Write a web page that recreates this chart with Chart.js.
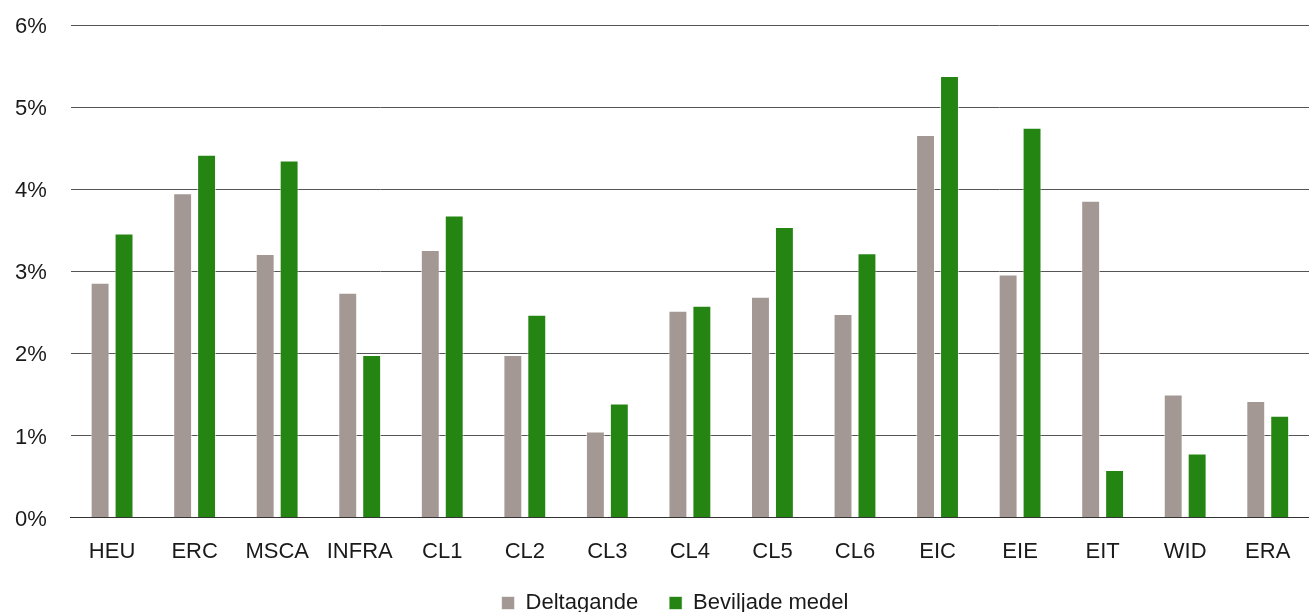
<!DOCTYPE html>
<html>
<head>
<meta charset="utf-8">
<script src="https://cdn.jsdelivr.net/npm/chart.js@4/dist/chart.umd.min.js"></script>
<style>
body{margin:0;background:#fff;}
#wrap{width:1309px;height:612px;overflow:hidden;}
</style>
</head>
<body>
<div id="wrap"><canvas id="chart" width="1309" height="612"></canvas></div>
<script>
let categories = ["HEU", "ERC", "MSCA", "INFRA", "CL1", "CL2", "CL3", "CL4", "CL5", "CL6", "EIC", "EIE", "EIT", "WID", "ERA"];
let deltagande = [2.86, 3.95, 3.21, 2.74, 3.26, 1.98, 1.05, 2.52, 2.69, 2.48, 4.66, 2.96, 3.86, 1.50, 1.42];
let beviljade = [3.46, 4.42, 4.35, 1.98, 3.68, 2.47, 1.39, 2.58, 3.54, 3.22, 5.38, 4.75, 0.58, 0.78, 1.24];
let seriesNames = ["Deltagande", "Beviljade medel"];
let colors = ["#a39893", "#248512"];
let yTicks = [0, 1, 2, 3, 4, 5, 6];

window.onload = run;

// legend padding is big to space the two items apart, so cut its height back down
// and nudge it a bit right, the original centres it on the plot not the canvas
let legendHeight = {
	id: "legendHeight",
	beforeInit: function(chart){
		let legend = chart.legend;
		let fit = legend.fit;
		let draw = legend.draw;
		legend.fit = function(){
			fit.call(legend);
			legend.height = 51;
		};
		legend.draw = function(){
			legend.ctx.save();
			legend.ctx.translate(13, 0);
			draw.call(legend);
			legend.ctx.restore();
		};
	}
};

function run(){
	Chart.defaults.font.family = "'Liberation Sans', Arial, sans-serif";
	Chart.defaults.font.size = 22;
	Chart.defaults.color = "#1a1a1a";

	let dataSets = [];
	let values = [deltagande, beviljade];
	for(let i = 0; i < values.length; i++){
		dataSets[dataSets.length] = {
			label: seriesNames[i],
			backgroundColor: colors[i],
			borderColor: "rgba(255,255,255,0.6)",
			borderWidth: 1,
			data: values[i],
			barPercentage: 0.79,
			categoryPercentage: 0.58
		};
	}

	// tick padding is done with invisible tick marks so it does not eat room at the ends
	let ctx = document.getElementById("chart").getContext("2d");
	let chart = new Chart(ctx, {
		type: "bar",
		data: {
			labels: categories,
			datasets: dataSets
		},
		plugins: [legendHeight],
		options: {
			responsive: false,
			animation: false,
			layout: {padding: {top: 25, right: 0, left: 15, bottom: 0}},
			plugins: {
				tooltip: {enabled: false},
				legend: {
					position: "bottom",
					labels: {boxWidth: 13, boxHeight: 13, padding: 31, color: "#1a1a1a"}
				}
			},
			scales: {
				x: {
					grid: {display: false, drawTicks: true, tickLength: 21, tickColor: "rgba(0,0,0,0)"},
					border: {color: "#333", width: 1},
					ticks: {padding: 0},
					afterFit: function(axis){ axis.height -= 4; }
				},
				y: {
					min: 0,
					max: 6,
					afterBuildTicks: function(axis){
						axis.ticks = yTicks.map(function(v){ return {value: v}; });
					},
					grid: {color: "#555", lineWidth: 1, drawTicks: true, tickLength: 24, tickColor: "rgba(0,0,0,0)"},
					border: {display: false},
					ticks: {
						padding: 0,
						labelOffset: 2,
						callback: function(v){ return v + "%"; }
					}
				}
			}
		}
	});
}
</script>
</body>
</html>
